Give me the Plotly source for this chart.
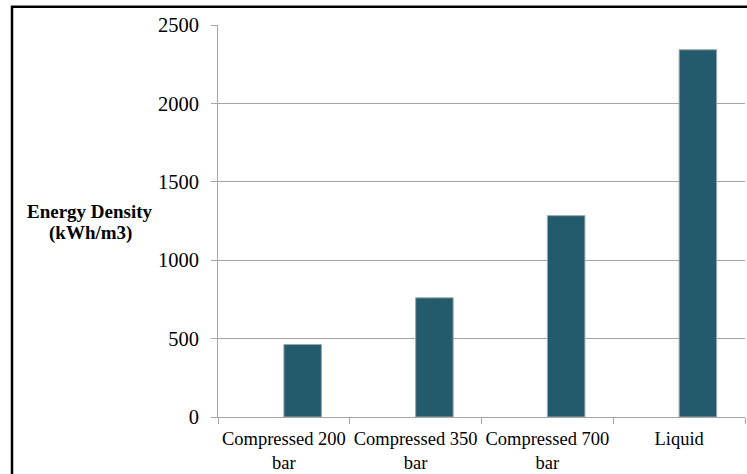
import plotly.graph_objects as go

# Volumetric energy density of hydrogen storage options
categories = ["Compressed 200<br>bar", "Compressed 350<br>bar", "Compressed 700<br>bar", "Liquid"]
energy_density = [462, 760, 1284, 2342]
y_ticks = [0, 500, 1000, 1500, 2000, 2500]

fig = go.Figure()
fig.add_trace(go.Bar(
    x=categories,
    y=energy_density,
    width=0.285,
    offset=0,
    marker=dict(color="#245B6C", line=dict(color="#9AA7AB", width=1)),
    showlegend=False,
))

grid = "#A6A6A6"
serif = "Liberation Serif, Times New Roman, serif"
fig.update_layout(
    width=747,
    height=474,
    margin=dict(l=218, r=2, t=25, b=57, pad=0),
    paper_bgcolor="white",
    plot_bgcolor="white",
    font=dict(family=serif, size=18, color="black"),
    xaxis=dict(
        type="category",
        tickson="boundaries",
        ticks="outside",
        ticklen=6,
        tickcolor=grid,
        showline=True,
        linecolor=grid,
        linewidth=1,
        showgrid=False,
        tickfont=dict(size=18.5),
        tickangle=0,
        automargin=False,
        ticklabelstandoff=5,
    ),
    yaxis=dict(
        range=[0, 2500],
        tickvals=y_ticks,
        ticks="outside",
        ticklen=6,
        tickcolor=grid,
        showline=True,
        linecolor=grid,
        linewidth=1,
        showgrid=True,
        gridcolor=grid,
        gridwidth=1,
        zeroline=False,
        tickfont=dict(size=20.5),
        automargin=False,
        ticklabelstandoff=8,
    ),
    shapes=[
        dict(type="rect", xref="paper", yref="paper",
             x0=-206 / 527, x1=1.2, y0=-0.3, y1=1.0468,
             line=dict(color="black", width=2.5), fillcolor="rgba(0,0,0,0)", layer="below"),
    ],
    annotations=[
        dict(text="<b>Energy Density</b>", xref="paper", yref="paper",
             x=-128 / 527, y=(416.7 - 212) / 391.4, xanchor="center", yanchor="middle",
             showarrow=False, font=dict(size=19)),
        dict(text="<b>(kWh/m3)</b>", xref="paper", yref="paper",
             x=-128 / 527, y=(416.7 - 233) / 391.4, xanchor="center", yanchor="middle",
             showarrow=False, font=dict(size=19)),
    ],
)

fig.write_html("out.html")
